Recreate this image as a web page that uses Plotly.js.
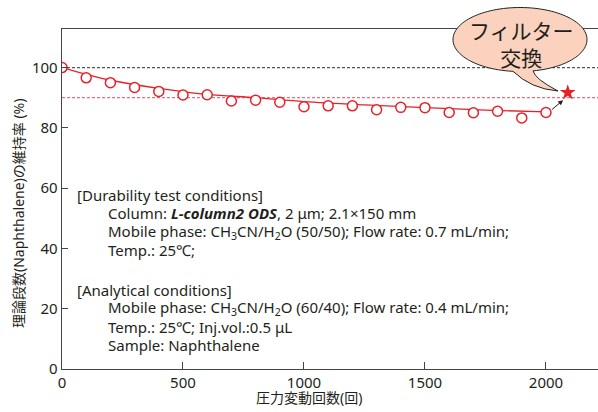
<!DOCTYPE html>
<html><head><meta charset="utf-8">
<script src="https://cdn.plot.ly/plotly-3.0.1.min.js"></script>
<style>html,body{margin:0;padding:0;background:#fff}#chart{width:598px;height:412px}</style>
</head><body><div id="chart"></div>
<script>
// ---- data ----
const cycles = [0,100,200,300,400,500,600,700,800,900,1000,1100,1200,1300,1400,1500,1600,1700,1800,1900,2000];
const retention = [100,96.6,95.0,93.4,92.1,90.9,91.0,88.9,89.2,88.5,87.0,87.3,87.3,86.0,86.8,86.7,85.1,85.0,85.5,83.3,85.1];
const fitX = [0,100,200,400,600,800,1000,1250,1500,1750,2000];
const fitY = [100,97.8,95.8,93.1,91.1,90.0,88.7,87.6,86.7,85.9,85.3];
const filterX = [2090];
const filterY = [91.7];
const refLevels = [100, 90];
const xTicks = [0,500,1000,1500,2000];
const yTicks = [0,20,40,60,80,100];
const arrowFrom = [2019, 85.7];
const arrowTo = [2071, 89.2];
const condLines = [
  '[Durability test conditions]',
  'Column: <b><i>L-column2 ODS</i></b>, 2 μm; 2.1×150 mm',
  'Mobile phase: CH<sub>3</sub>CN/H<sub>2</sub>O (50/50); Flow rate: 0.7 mL/min;',
  'Temp.: 25℃;',
  '[Analytical conditions]',
  'Mobile phase: CH<sub>3</sub>CN/H<sub>2</sub>O (60/40); Flow rate: 0.4 mL/min;',
  'Temp.: 25℃; Inj.vol.:0.5 μL',
  'Sample: Naphthalene'
];
const bubbleText = 'フィルター<br>交換';
const xTitle = '圧力変動回数(回)';
const yTitle = '理論段数(Naphthalene)の維持率 (%)';

// ---- layout helpers ----
const W=598,H=412,L=62,R=0,T=29,B=43;
const PW=W-L-R, PH=H-T-B;
const px = x => (x-L)/PW;
const py = y => (H-B-y)/PH;
const RED = 'rgb(232,32,40)';
const TXT = '#231f20';
const FONT = 'Noto Sans, Noto Sans CJK JP, sans-serif';

// speech bubble path (decoration)
function bubblePath(){
  const cx=520, cy=39.5, rx=67, ry=32;
  let d='';
  let first=true;
  for(let t=78.8; t>=-264; t-=3){
    const a=t*Math.PI/180;
    const X=px(cx+rx*Math.cos(a)), Y=py(cy+ry*Math.sin(a));
    d += (first?'M':'L')+X.toFixed(5)+','+Y.toFixed(5)+' ';
    first=false;
  }
  const lb=[513,71.3], tip=[558,91], rb=[533,70.9];
  d += 'L'+px(lb[0])+','+py(lb[1])+' ';
  d += 'Q'+px(531)+','+py(88.8)+' '+px(tip[0])+','+py(tip[1])+' ';
  d += 'Q'+px(535)+','+py(79)+' '+px(rb[0])+','+py(rb[1])+' Z';
  return d;
}

const yCenters = [195,213,231.5,250,290,308,326.5,345];
const xStarts = [75,106,106,106,75,106,106,106];

const annotations = condLines.map((t,i)=>({
  text:t, xref:'paper', yref:'paper', x:px(xStarts[i]), y:py(yCenters[i]),
  xanchor:'left', yanchor:'middle', showarrow:false,
  font:{family:FONT, size:15, color:TXT}
}));
annotations.push({
  text:bubbleText, xref:'paper', yref:'paper', x:px(521), y:py(44), xanchor:'center', yanchor:'middle',
  showarrow:false, font:{family:'Noto Sans CJK JP, sans-serif', size:21, color:TXT}
});
annotations.push({
  text:'', x:arrowTo[0], y:arrowTo[1], ax:arrowFrom[0], ay:arrowFrom[1], axref:'x', ayref:'y', xref:'x', yref:'y',
  showarrow:true, arrowhead:2, arrowsize:1, arrowwidth:1, arrowcolor:TXT, standoff:0, startstandoff:0
});
annotations.push({
  text:xTitle, xref:'paper', yref:'paper', x:px(309), y:py(397), xanchor:'center', yanchor:'middle',
  showarrow:false, font:{family:FONT, size:14, color:TXT}
});
annotations.push({
  text:yTitle, xref:'paper', yref:'paper', x:px(18), y:py(214), xanchor:'center', yanchor:'middle',
  textangle:-90, showarrow:false, font:{family:FONT, size:14, color:TXT}
});

const shapes = refLevels.map((v,i)=>({
  type:'line', xref:'paper', yref:'y', x0:0, x1:1, y0:v, y1:v, layer:'below',
  line:{color: i===0 ? '#555' : 'rgb(240,110,120)', width:1.2, dash:'3px,2px'}
}));
shapes.push({type:'path', xref:'paper', yref:'paper', path:bubblePath(), fillcolor:'rgb(250,210,190)',
  line:{color:'#222', width:1}, layer:'above'});

const traces = [
  {x:fitX, y:fitY, mode:'lines', line:{color:RED, width:1.3, shape:'spline', smoothing:1}, hoverinfo:'skip'},
  {x:cycles, y:retention, mode:'markers', marker:{symbol:'circle', size:10, color:'#fff', line:{color:RED, width:1.5}}},
  {x:filterX, y:filterY, mode:'markers', marker:{symbol:'star', size:12, color:RED, line:{width:0}}, cliponaxis:false}
];

const layout = {
  width:W, height:H, margin:{l:L, r:R, t:T, b:B}, showlegend:false,
  paper_bgcolor:'#fff', plot_bgcolor:'#fff',
  font:{family:FONT, color:TXT},
  xaxis:{range:[0,2215], tickvals:xTicks, ticks:'inside', ticklen:7, tickcolor:'#444', tickwidth:1,
    showline:true, linecolor:'#444', linewidth:1.3, mirror:true, showgrid:false, zeroline:false,
    tickfont:{family:FONT, size:15, color:TXT}},
  yaxis:{range:[0,112.8], tickvals:yTicks, ticks:'inside', ticklen:6, tickcolor:'#444', tickwidth:1,
    showline:true, linecolor:'#444', linewidth:1.3, mirror:false, showgrid:false, zeroline:false,
    tickfont:{family:FONT, size:15, color:TXT}},
  annotations, shapes
};
Plotly.newPlot('chart', traces, layout, {staticPlot:true, displayModeBar:false});
</script></body></html>
